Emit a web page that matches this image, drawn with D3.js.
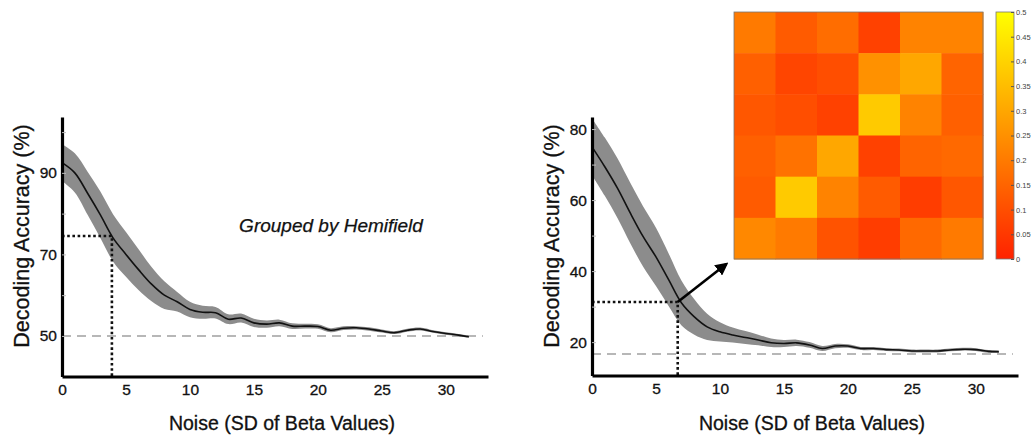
<!DOCTYPE html>
<html>
<head>
<meta charset="utf-8">
<script src="https://cdn.jsdelivr.net/npm/d3@7"></script>
<style>
  body { margin: 0; background: #fff; }
  svg { font-family: "Liberation Sans", Arial, Helvetica, sans-serif; }
</style>
</head>
<body>
<svg width="1034" height="439"></svg>
<script>
// noise levels (SD of beta values)
let noise = d3.range(0, 33)

// left panel: grouped by hemifield
let leftMean = [92.5, 90, 85, 79.7, 74, 70, 66.2, 62.7, 60, 58.4, 56.5, 55.8, 55.7, 54.1, 54.4, 53.2,
  52.9, 53.2, 52.4, 52.4, 52.3, 51.4, 51.9, 52, 51.7, 51.2, 50.8, 51.4, 51.7, 51.1, 50.6, 50.2, 49.8]
let leftErr = [4.5, 4.8, 5.3, 5.7, 5.8, 5.5, 5, 4.2, 3.4, 2.4, 1.9, 1.6, 1.4, 1.2, 1.1, 1, 0.9, 0.8, 0.7,
  0.6, 0.55, 0.5, 0.45, 0.4, 0.4, 0.35, 0.35, 0.35, 0.35, 0.3, 0.3, 0.3, 0.3]
let leftYTicks = [50, 60, 70, 80, 90, 100]
let leftYLabels = [50, 70, 90]
let leftChance = 50
let leftMark = [3.9, 74.5]

// right panel
let rightMean = [75, 69.4, 63.3, 56.3, 49.7, 44, 37.5, 31, 27.1, 24.3, 22.9, 22, 21.3, 20.6, 19.8, 19.6,
  19.8, 19.2, 18.2, 18.9, 18.9, 18.2, 18.2, 17.9, 17.8, 17.5, 17.5, 17.5, 17.8, 18, 17.9, 17.4, 17.3]
let rightErr = [8, 8.2, 8.4, 8.5, 8.5, 8.2, 7.4, 6.3, 5, 3.7, 2.7, 2.1, 1.8, 1.5, 1.2, 1, 0.9, 0.8, 0.7,
  0.6, 0.5, 0.45, 0.4, 0.4, 0.4, 0.4, 0.4, 0.4, 0.4, 0.4, 0.4, 0.4, 0.4]
let rightYTicks = [20, 30, 40, 50, 60, 70, 80]
let rightYLabels = [20, 40, 60, 80]
let rightChance = 16.67
let rightMark = [6.7, 31.3]
let arrowEnd = [10.5, 42]

let xTicks = [0, 5, 10, 15, 20, 25, 30]

// confusion matrix inset (6 x 6)
let matrix = [
  [0.20, 0.13, 0.17, 0.07, 0.22, 0.22],
  [0.14, 0.08, 0.10, 0.25, 0.30, 0.15],
  [0.12, 0.10, 0.07, 0.38, 0.22, 0.14],
  [0.14, 0.18, 0.30, 0.07, 0.15, 0.16],
  [0.13, 0.38, 0.22, 0.13, 0.06, 0.12],
  [0.23, 0.20, 0.11, 0.06, 0.16, 0.20]
]
let cbTicks = [0, 0.05, 0.1, 0.15, 0.2, 0.25, 0.3, 0.35, 0.4, 0.45, 0.5]

let svg = d3.select("svg")

let drawPanel = (opt) => {
  let xScale = d3.scaleLinear().domain([0, 33.3]).range([opt.x0, opt.x0 + 426])
  let yScale = d3.scaleLinear().domain(opt.yDomain).range([opt.yBottom, 117])
  let pts = noise.map((n, i) => ({ x: n, m: opt.mean[i], e: opt.err[i] }))
  pts[pts.length - 1].x = 31.8

  let g = svg.append("g")

  // dashed chance line
  g.append("line")
   .attr("x1", xScale(0)).attr("x2", xScale(32.9))
   .attr("y1", yScale(opt.chance)).attr("y2", yScale(opt.chance))
   .attr("stroke", "#a0a0a0").attr("stroke-width", 1.6)
   .attr("stroke-dasharray", "9,6")

  let area = d3.area()
    .x(d => xScale(d.x))
    .y0(d => yScale(Math.max(d.m - d.e, opt.yDomain[0])))
    .y1(d => yScale(Math.min(d.m + d.e, opt.yDomain[1])))
    .curve(d3.curveCatmullRom)
  g.append("path").datum(pts)
   .attr("d", area)
   .attr("fill", "#8c8c8c")

  let line = d3.line()
    .x(d => xScale(d.x))
    .y(d => yScale(d.m))
    .curve(d3.curveCatmullRom)
  g.append("path").datum(pts)
   .attr("d", line)
   .attr("fill", "none")
   .attr("stroke", "#111")
   .attr("stroke-width", 1.6)

  // dotted guide lines
  let mk = opt.mark
  g.append("path")
   .attr("d", "M" + xScale(0) + "," + yScale(mk[1]) + "H" + xScale(mk[0]) + "V" + yScale(opt.yDomain[0]))
   .attr("fill", "none")
   .attr("stroke", "#111")
   .attr("stroke-width", 2.6)
   .attr("stroke-dasharray", "2.6,2.6")

  // axes
  let xAxis = d3.axisBottom(xScale).tickValues(xTicks).tickSizeInner(0).tickSizeOuter(0).tickPadding(7)
  let yAxis = d3.axisLeft(yScale).tickValues(opt.yTicks)
    .tickFormat(d => opt.yLabels.includes(d) ? d : "")
    .tickSizeInner(-4).tickSizeOuter(0).tickPadding(5)

  let gx = g.append("g")
    .attr("transform", "translate(0," + opt.yBottom + ")")
    .call(xAxis)
  let gy = g.append("g")
    .attr("transform", "translate(" + opt.x0 + ",0)")
    .call(yAxis)

  ;[gx, gy].forEach(a => {
    a.select(".domain").attr("stroke", "#000").attr("stroke-width", 3.2)
    a.selectAll(".tick line").attr("stroke", "#bbb").attr("stroke-width", 1)
    a.selectAll("text").attr("font-size", 15.5).attr("fill", "#111")
      .attr("stroke", "#111").attr("stroke-width", 0.3)
      .attr("font-family", "Liberation Sans, Arial, sans-serif")
  })

  // axis titles
  g.append("text")
   .attr("transform", "translate(" + (opt.x0 - 33) + "," + 236 + ") rotate(-90)")
   .attr("text-anchor", "middle")
   .attr("font-size", 21.5)
   .attr("fill", "#111").attr("stroke", "#111").attr("stroke-width", 0.3)
   .text("Decoding Accuracy (%)")
  g.append("text")
   .attr("x", opt.x0 + 220).attr("y", 430)
   .attr("text-anchor", "middle")
   .attr("font-size", 19.5)
   .attr("fill", "#111").attr("stroke", "#111").attr("stroke-width", 0.3)
   .text("Noise (SD of Beta Values)")

  return { xScale, yScale, g }
}

let left = drawPanel({ x0: 62, yBottom: 376.5, yDomain: [40.05, 103.7], mean: leftMean, err: leftErr,
  yTicks: leftYTicks, yLabels: leftYLabels, chance: leftChance, mark: leftMark })

left.g.append("text")
  .attr("x", 331).attr("y", 232)
  .attr("text-anchor", "middle")
  .attr("font-size", 19)
  .attr("font-style", "italic")
  .attr("fill", "#111").attr("stroke", "#111").attr("stroke-width", 0.25)
  .text("Grouped by Hemifield")

let right = drawPanel({ x0: 592, yBottom: 375.5, yDomain: [10.6, 83.4], mean: rightMean, err: rightErr,
  yTicks: rightYTicks, yLabels: rightYLabels, chance: rightChance, mark: rightMark })

// arrow to inset
svg.append("defs").append("marker")
  .attr("id", "head")
  .attr("viewBox", "0 0 10 10")
  .attr("refX", 8).attr("refY", 5)
  .attr("markerWidth", 5).attr("markerHeight", 5)
  .attr("orient", "auto")
  .append("path").attr("d", "M0,0L10,5L0,10z").attr("fill", "#000")

svg.append("line")
  .attr("x1", right.xScale(rightMark[0])).attr("y1", right.yScale(rightMark[1]))
  .attr("x2", right.xScale(arrowEnd[0])).attr("y2", right.yScale(arrowEnd[1]))
  .attr("stroke", "#000").attr("stroke-width", 2.6)
  .attr("marker-end", "url(#head)")

// inset heatmap
let color = d3.scaleLinear().domain([0, 0.5]).range(["#ff2200", "#ffff00"])
let hx = d3.scaleBand().domain(d3.range(6)).range([734, 983])
let hy = d3.scaleBand().domain(d3.range(6)).range([12, 259])

let cells = []
matrix.forEach((row, r) => row.forEach((v, c) => cells.push({ r, c, v })))

let inset = svg.append("g")
inset.append("rect")
  .attr("x", 731).attr("y", 9).attr("width", 255).attr("height", 253)
  .attr("fill", "#fff")
inset.selectAll("rect.cell")
  .data(cells)
  .enter()
  .append("rect")
  .attr("class", "cell")
  .attr("x", d => hx(d.c))
  .attr("y", d => hy(d.r))
  .attr("width", hx.bandwidth() + 0.5)
  .attr("height", hy.bandwidth() + 0.5)
  .attr("fill", d => color(d.v))
inset.append("rect")
  .attr("x", 734).attr("y", 12).attr("width", 249).attr("height", 247)
  .attr("fill", "none").attr("stroke", "#777").attr("stroke-width", 0.8)

// colorbar
let cbScale = d3.scaleLinear().domain([0, 0.5]).range([259, 12])
let grad = svg.select("defs").append("linearGradient")
  .attr("id", "cb").attr("x1", 0).attr("y1", 1).attr("x2", 0).attr("y2", 0)
grad.selectAll("stop").data([0, 0.5]).enter().append("stop")
  .attr("offset", d => d / 0.5)
  .attr("stop-color", d => color(d))
inset.append("rect")
  .attr("x", 996).attr("y", 12).attr("width", 18).attr("height", 247)
  .attr("fill", "url(#cb)")
  .attr("stroke", "#777").attr("stroke-width", 0.8)

let cbAxis = d3.axisRight(cbScale).tickValues(cbTicks).tickFormat(d3.format("~g"))
  .tickSizeInner(-3).tickSizeOuter(0).tickPadding(2)
let gcb = inset.append("g").attr("transform", "translate(1014,0)").call(cbAxis)
gcb.select(".domain").remove()
gcb.selectAll(".tick line").attr("stroke", "#555")
gcb.selectAll("text").attr("font-size", 7.5).attr("fill", "#444")
</script>
</body>
</html>
